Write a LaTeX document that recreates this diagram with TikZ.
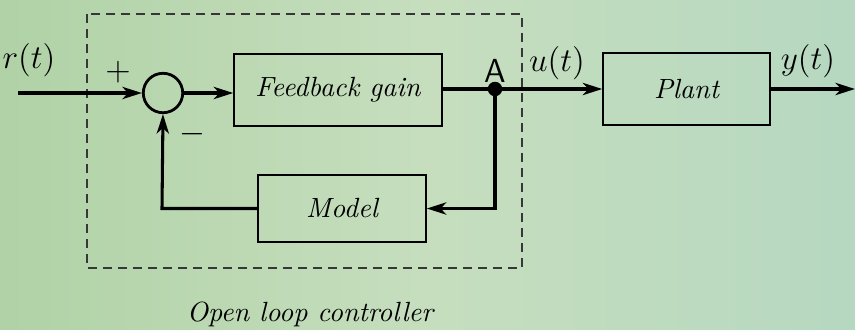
\documentclass[tikz,border=0pt]{standalone}
\usetikzlibrary{arrows.meta,calc}
\definecolor{bgA}{RGB}{176,210,166}
\definecolor{bgB}{RGB}{198,222,190}
\definecolor{bgC}{RGB}{182,216,192}
\definecolor{dashc}{RGB}{55,55,55}
\begin{document}
\begin{tikzpicture}[x=0.36pt,y=-0.36pt,
  blockbox/.style={draw,line width=0.55pt,minimum width=#1,inner sep=0pt,font=\itshape},
  sumnode/.style={draw,circle,line width=1pt,minimum size=14.2pt,inner sep=0pt},
  sig/.style={line width=1.1pt},
  sigarrow/.style={line width=1.1pt,-{Stealth[length=7pt,width=4.4pt,inset=2pt]}},
  lbl/.style={inner sep=0pt,font=\large}]
\useasboundingbox (0,0) rectangle (855,329);
\shade[left color=bgA,right color=bgC,middle color=bgB] (0,0) rectangle (855,329);
% dashed controller frame
\draw[dashc,line width=0.5pt,dash pattern=on 3.2pt off 2.2pt] (87,14) rectangle (522,268);
% blocks
\node[sumnode] (sum) at (163,93) {};
\node[blockbox=74.9pt,minimum height=25.9pt] (fb) at (338,90) {Feedback gain};
\node[blockbox=60.1pt,minimum height=25.9pt] (plant) at (686.5,89) {Plant};
\node[blockbox=60.5pt,minimum height=24.1pt] (model) at (342,208.5) {Model};
\coordinate (in) at (18,93);
\coordinate (A) at (495,89);
\coordinate (out) at (855,89);
\coordinate (Ad) at (495,208.5);
\coordinate (Ld) at (162,208.5);
% connectors
\draw[sigarrow] (in) -- (sum.west);
\draw[sigarrow] (sum.east) -- (sum.east -| fb.west);
\draw[sig] (fb.east |- A) -- (A);
\draw[sigarrow] (A) -- (A -| plant.west);
\draw[sigarrow] (plant.east) -- (out);
\draw[sig,-{Stealth[length=7pt,width=4.4pt,inset=2pt]}] (A) -- (Ad) -- (model.east);
\draw[sig,-{Stealth[length=7pt,width=4.4pt,inset=2pt]}] (model.west) -- (Ld) -- (sum.south);
\fill (A) circle (2.6pt);
% labels
\node[lbl] (lr) at (29,60) {$r(t)$};
\node[lbl] (lp) at (118,72) {$+$};
\node[lbl] (lm) at (192,134) {$-$};
\node[lbl,font=\large\sffamily] (lA) at (495,71) {A};
\node[lbl] (lu) at (557,63) {$u(t)$};
\node[lbl] (ly) at (808,61) {$y(t)$};
\node[inner sep=0pt,font=\itshape] (lc) at (310,314) {Open loop controller};
\end{tikzpicture}
\end{document}
